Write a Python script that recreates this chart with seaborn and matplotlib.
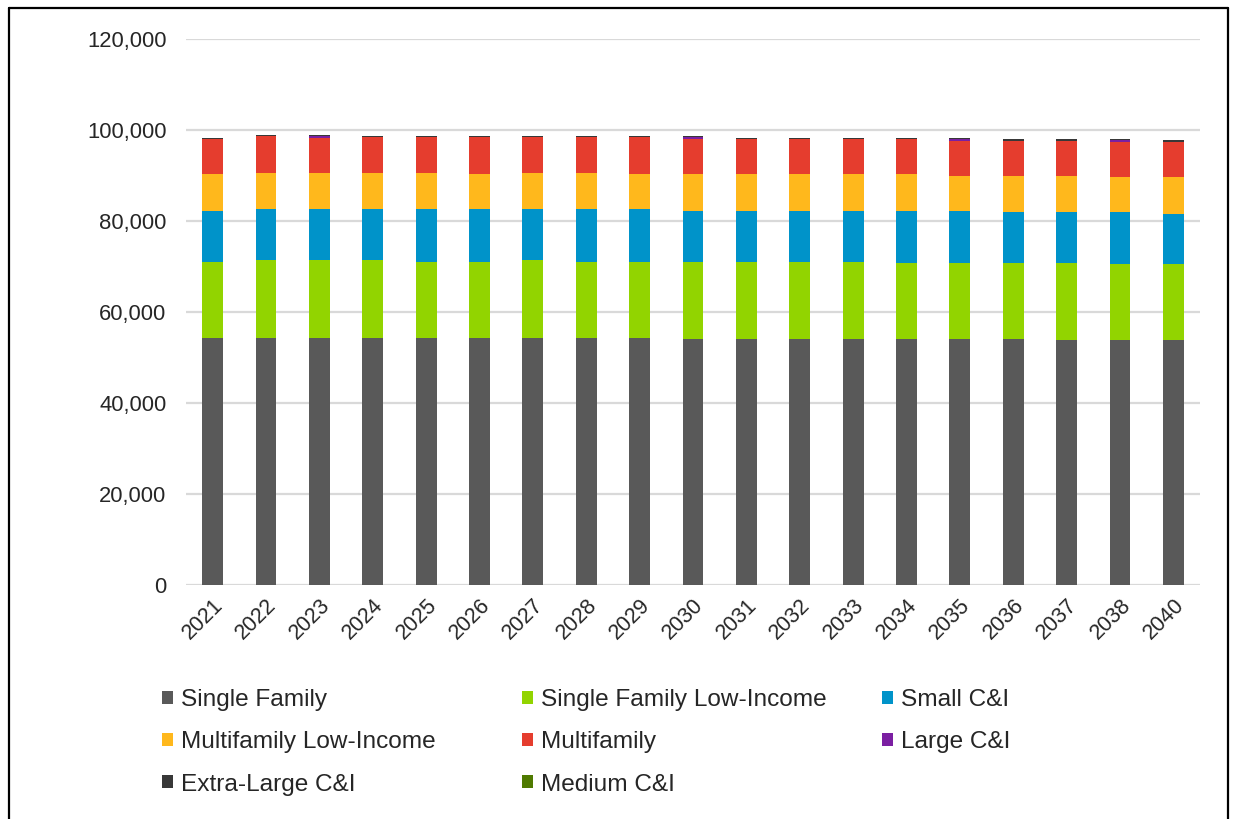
import numpy as np
import pandas as pd
import matplotlib
matplotlib.use("Agg")
import matplotlib.pyplot as plt
import seaborn as sns
from matplotlib.patches import Patch
from matplotlib.lines import Line2D
from matplotlib.ticker import FuncFormatter

# years shown on the x axis (2039 is not in the source chart)
years = ['2021', '2022', '2023', '2024', '2025', '2026', '2027', '2028', '2029', '2030',
         '2031', '2032', '2033', '2034', '2035', '2036', '2037', '2038', '2040']

# segment values, bottom to top
single_family = [54360, 54360, 54360, 54360, 54360, 54360, 54360, 54360, 54360, 54070,
                 54070, 54070, 54070, 54070, 54070, 54070, 53770, 53770, 53770]
sf_low_income = [16700, 17000, 17000, 17000, 16700, 16700, 17000, 16700, 16700, 16990,
                 16990, 16990, 16990, 16700, 16700, 16700, 17000, 16710, 16710]
small_ci = [11210, 11200, 11200, 11200, 11500, 11500, 11200, 11500, 11500, 11210,
            11210, 11210, 11210, 11500, 11500, 11140, 11140, 11430, 11060]
mf_low_income = [7990, 8060, 8060, 8060, 8060, 7700, 8060, 8060, 7700, 7990,
                 7990, 7990, 7990, 7990, 7620, 7980, 7980, 7690, 8060]
multifamily = [7690, 7990, 7700, 7840, 7840, 8200, 7840, 7840, 8200, 7760,
               7690, 7690, 7690, 7690, 7760, 7760, 7760, 7760, 7760]
large_ci = [0, 0, 290, 0, 0, 0, 0, 0, 0, 370,
            0, 0, 0, 0, 370, 0, 0, 370, 0]
xl_ci = [370, 290, 290, 220, 220, 220, 220, 220, 220, 290,
         370, 370, 370, 370, 300, 370, 370, 290, 370]
medium_ci = [0] * 19

series = [
    ('Single Family', single_family, '#595959'),
    ('Single Family Low-Income', sf_low_income, '#92D400'),
    ('Small C&I', small_ci, '#0093C9'),
    ('Multifamily Low-Income', mf_low_income, '#FFB81C'),
    ('Multifamily', multifamily, '#E53D2E'),
    ('Large C&I', large_ci, '#7B1FA2'),
    ('Extra-Large C&I', xl_ci, '#383838'),
    ('Medium C&I', medium_ci, '#4F7A00'),
]

sns.set_style('white')
plt.rcParams['font.family'] = ['Liberation Sans', 'DejaVu Sans']

fig = plt.figure(figsize=(12.35, 8.19), dpi=100)
ax = fig.add_axes([0.1506, 0.2857, 0.8211, 0.6667])

# stacked bars: draw cumulative totals from the top down so each one covers the rest
cum = np.cumsum(np.array([s[1] for s in series]), axis=0)
for i in range(len(series) - 1, -1, -1):
    df = pd.DataFrame({'year': years, 'value': cum[i]})
    sns.barplot(data=df, x='year', y='value', color=series[i][2], saturation=1,
                width=0.39, ax=ax, linewidth=0, zorder=3)

ax.set_ylim(0, 120000)
ax.set_xlim(-0.5, len(years) - 0.5)
ax.set_yticks(range(0, 120001, 20000))
ax.yaxis.set_major_formatter(FuncFormatter(lambda v, p: f'{int(v):,}'))
ax.grid(axis='y', color='#D9D9D9', linewidth=1.6, zorder=0)
ax.set_axisbelow(True)
for sp in ax.spines.values():
    sp.set_visible(False)
ax.set_xlabel('')
ax.set_ylabel('')
ax.tick_params(axis='y', length=0, pad=14, labelsize=15.8, labelcolor='#262626')
ax.tick_params(axis='x', length=0, pad=7, labelsize=15.5, labelcolor='#262626')
plt.setp(ax.get_xticklabels(), rotation=45, ha='right', va='top',
         rotation_mode='anchor')

# legend in three columns, filled row by row
cols = [[0, 3, 6], [1, 4, 7], [2, 5]]
xs = [162, 522, 882]
for c, x0 in zip(cols, xs):
    handles = [Patch(facecolor=series[k][2], edgecolor='none') for k in c]
    labels = [series[k][0] for k in c]
    leg = fig.legend(handles, labels, loc='upper left',
                     bbox_to_anchor=(x0 / 1235, 1 - 689 / 819), frameon=False,
                     fontsize=17.6, handlelength=0.43, handleheight=0.43,
                     handletextpad=0.36, labelspacing=0.83, borderaxespad=0,
                     borderpad=0)
    for t in leg.get_texts():
        t.set_color('#262626')

# outer frame (left, top, right)
for xx, yy in [((9, 9), (8, 819)), ((9, 1228), (8, 8)), ((1228, 1228), (8, 819))]:
    fig.add_artist(Line2D([xx[0] / 1235, xx[1] / 1235],
                          [1 - yy[0] / 819, 1 - yy[1] / 819],
                          color='black', linewidth=1.6))

fig.savefig('out.png', dpi=100)
